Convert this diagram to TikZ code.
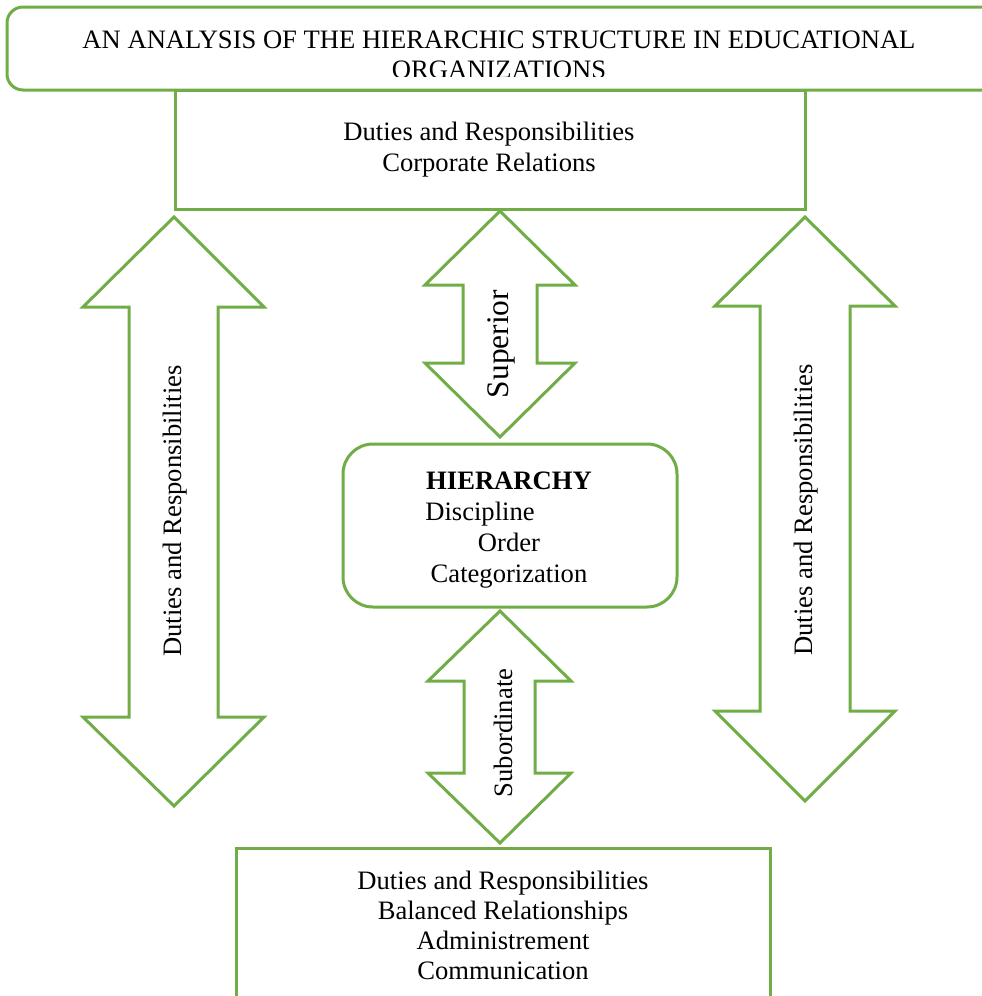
\documentclass[tikz,border=0pt]{standalone}
\usepackage{fontspec}
\setmainfont{Liberation Serif}
\definecolor{grn}{HTML}{70AD47}
\begin{document}
\begin{tikzpicture}[x=0.5pt,y=-0.5pt,
  box/.style={draw=grn, line width=1.5pt, inner sep=0pt},
  txt/.style={font=\fontsize{13.3}{15.5}\selectfont, align=center, inner sep=0pt},
  arr/.style={draw=grn, line width=1.5pt, line join=miter}]
\useasboundingbox (0,0) rectangle (981,996);
% boxes
\node[box, rounded corners=8pt, minimum width=501.5pt, minimum height=41.5pt] (title) at (508.5,48.5) {};
\node[box, minimum width=315pt, minimum height=59.5pt] (top) at (490,149.5) {};
\node[box, rounded corners=15pt, minimum width=167pt, minimum height=81.5pt] (hier) at (510,525.5) {};
\node[box, minimum width=267pt, minimum height=81pt] (bottom) at (503,929) {};
% title text (second line clipped)
\begin{scope}
\clip (0,0) rectangle (981,76);
\node[txt, anchor=base] (t1) at (499,48) {AN ANALYSIS OF THE HIERARCHIC STRUCTURE IN EDUCATIONAL};
\node[txt, anchor=base] (t2) at (499,78) {ORGANIZATIONS};
\end{scope}
% box texts
\node[txt] (toptext) at (489,150) {Duties and Responsibilities\\Corporate Relations};
\node[txt] (hiertext) at (509,530) {\textbf{HIERARCHY}\\Discipline\rule{29pt}{0pt}\\Order\\Categorization};
\node[txt, font=\fontsize{13.3}{15}\selectfont] (bottext) at (503,925) {Duties and Responsibilities\\Balanced Relationships\\Administrement\\Communication};
% superior arrow
\draw[arr] (500,211) -- (575,285) -- (537,285) -- (537,363) -- (575,363) -- (500,437) -- (425,363) -- (463,363) -- (463,285) -- (425,285) -- cycle;
\node[txt, rotate=90, font=\fontsize{15.7}{18}\selectfont] (sup) at (501,344) {Superior};
% subordinate arrow
\draw[arr] (500,611) -- (571,681) -- (535,681) -- (535,773) -- (571,773) -- (500,843) -- (428,773) -- (464,773) -- (464,681) -- (428,681) -- cycle;
\node[txt, rotate=90] (sub) at (503,733) {Subordinate};
% left arrow
\draw[arr] (174,217) -- (264,307) -- (218,307) -- (218,717) -- (264,717) -- (174,806) -- (83,717) -- (129,717) -- (129,307) -- (83,307) -- cycle;
\node[txt, rotate=90] (ldr) at (175,511) {Duties and Responsibilities};
% right arrow
\draw[arr] (805,217) -- (895,306) -- (850,306) -- (850,711) -- (895,711) -- (805,801) -- (715,711) -- (760,711) -- (760,306) -- (715,306) -- cycle;
\node[txt, rotate=90] (rdr) at (806,510) {Duties and Responsibilities};
\end{tikzpicture}
\end{document}
